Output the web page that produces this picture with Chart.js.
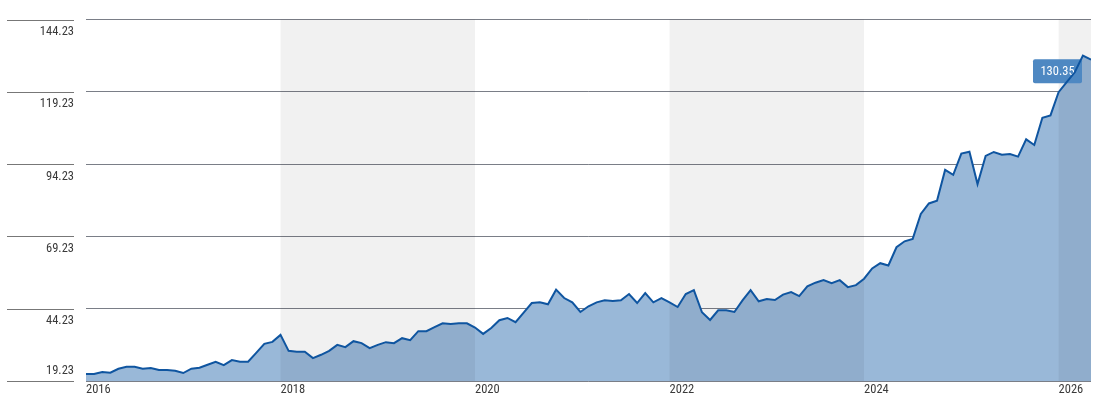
<!DOCTYPE html>
<html>
<head>
<meta charset="utf-8">
<script src="https://cdn.jsdelivr.net/npm/chart.js@4/dist/chart.umd.min.js"></script>
<style>
  html, body { margin: 0; padding: 0; background: #fff; }
  canvas { display: block; }
</style>
</head>
<body>
<canvas id="priceChart" width="1101" height="406"></canvas>
<script>
// monthly closes, Jan 2016 onwards
const startYear = 2016;
const values = [
  21.64, 21.64, 22.33, 22.09, 23.47, 24.15, 24.15, 23.47, 23.71, 23.02, 23.02, 22.78,
  21.98, 23.47, 23.81, 24.84, 25.88, 24.74, 26.46, 25.88, 25.88, 28.98, 32.07, 32.76,
  35.17, 29.66, 29.32, 29.32, 27.15, 28.29, 29.66, 31.73, 30.94, 33.00, 32.32, 30.59,
  31.73, 32.66, 32.32, 34.04, 33.35, 36.45, 36.45, 37.83, 39.20, 38.96, 39.20, 39.20,
  37.72, 35.52, 37.58, 40.23, 41.03, 39.55, 42.89, 46.19, 46.43, 45.75, 50.81, 47.91,
  46.43, 43.09, 45.06, 46.43, 47.12, 46.88, 47.12, 49.29, 46.19, 49.64, 46.43, 47.91,
  46.43, 44.82, 49.29, 50.67, 42.99, 40.34, 43.68, 43.68, 43.09, 47.12, 50.67, 46.78,
  47.57, 47.23, 49.09, 49.98, 48.60, 51.94, 53.22, 54.11, 53.08, 54.11, 51.70, 52.39,
  54.60, 58.14, 59.97, 59.17, 65.48, 67.54, 68.37, 76.98, 80.63, 81.56, 92.23, 90.51,
  97.85, 98.53, 87.31, 97.05, 98.43, 97.50, 97.74, 96.81, 102.80, 100.84, 110.24, 111.07,
  119.09, 122.54, 125.98, 131.73, 130.35
];
const yTicks = [19.23, 44.23, 69.23, 94.23, 119.23, 144.23];
const yearTicks = [2016, 2018, 2020, 2022, 2024, 2026];
const shadedYears = [[2018, 2020], [2022, 2024], [2026, null]];

const Y_MIN = yTicks[0];
const Y_MAX = yTicks[yTicks.length - 1];
const X_MIN = startYear;
const X_MAX = startYear + (values.length - 1) / 12;

const points = values.map((v, i) => ({ x: startYear + i / 12, y: v }));

// pick a narrow face if one is installed
function hasFont(name) {
  const c = document.createElement('canvas').getContext('2d');
  c.font = '20px monospace';
  const base = c.measureText('144.23 2016').width;
  c.font = "20px '" + name + "', monospace";
  return c.measureText('144.23 2016').width !== base;
}
const candidates = [
  ['Liberation Sans Narrow', 13],
  ['Arial Narrow', 13],
  ['Roboto Condensed', 12.5],
  ['DejaVu Sans Condensed', 12],
  ['Noto Sans Condensed', 12.5]
];
let pick = candidates.find(c => hasFont(c[0])) || ['Liberation Sans', 11.5];
const FONT = { family: "'" + pick[0] + "', 'Liberation Sans', sans-serif", size: pick[1] };
const TEXT = '#3a3a3a';
const fmt = v => v.toFixed(2);

// grey bands over the area fill + last value badge, drawn before the line itself
const bandsPlugin = {
  id: 'bands',
  afterDatasetDraw(chart, args) {
    if (args.index !== 1) return;
    const { ctx, chartArea } = chart;
    const x = chart.scales.x;
    ctx.save();
    ctx.fillStyle = 'rgba(0,0,0,0.055)';
    shadedYears.forEach(([a, b]) => {
      const x0 = x.getPixelForValue(a);
      const x1 = b === null ? chartArea.right : x.getPixelForValue(b);
      ctx.fillRect(x0, chartArea.top, x1 - x0, chartArea.bottom - chartArea.top);
    });
    // last value badge
    const meta = chart.getDatasetMeta(0);
    const last = meta.data[meta.data.length - 1];
    const w = 49, h = 24;
    const bx = last.x - 9 - w, by = last.y - 0.5;
    ctx.fillStyle = '#4e88c2';
    ctx.beginPath();
    ctx.roundRect(bx, by, w, h, 2);
    ctx.fill();
    ctx.fillStyle = '#ffffff';
    ctx.font = FONT.size + 'px ' + FONT.family;
    ctx.textAlign = 'center';
    ctx.textBaseline = 'middle';
    ctx.fillText(fmt(values[values.length - 1]), bx + w / 2, by + h / 2 + 0.5);
    ctx.restore();
  }
};

// short rules in the label gutter, and the bottom label which sits above its rule
const gutterPlugin = {
  id: 'gutter',
  afterDraw(chart) {
    const { ctx } = chart;
    const y = chart.scales.y;
    const right = chart.chartArea.left - 12;
    ctx.save();
    ctx.setLineDash([]);
    ctx.fillStyle = '#777777';
    y.ticks.forEach(t => {
      const py = Math.round(y.getPixelForValue(t.value));
      ctx.fillRect(7, py, right - 7, 1);
    });
    ctx.fillStyle = TEXT;
    ctx.font = FONT.size + 'px ' + FONT.family;
    ctx.textAlign = 'right';
    ctx.textBaseline = 'middle';
    ctx.fillText(fmt(Y_MIN), right, y.getPixelForValue(Y_MIN) - 10);
    ctx.restore();
  }
};

const ctx = document.getElementById('priceChart').getContext('2d');
const priceChart = new Chart(ctx, {
  type: 'line',
  data: {
    datasets: [{
      data: points,
      borderColor: '#0f55a0',
      borderWidth: 2,
      pointRadius: 0,
      tension: 0,
      fill: false,
      order: 0
    }, {
      data: points,
      borderWidth: 0,
      pointRadius: 0,
      tension: 0,
      backgroundColor: '#99b8d8',
      fill: 'start',
      order: 1
    }]
  },
  plugins: [bandsPlugin, gutterPlugin],
  options: {
    responsive: false,
    animation: false,
    devicePixelRatio: 1,
    layout: { padding: { top: 18, right: 10, bottom: 0, left: 0 } },
    plugins: { legend: { display: false }, tooltip: { enabled: false } },
    scales: {
      x: {
        type: 'linear',
        min: X_MIN,
        max: X_MAX,
        afterBuildTicks: s => { s.ticks = yearTicks.map(v => ({ value: v })); },
        afterFit: s => { s.height = 25; },
        grid: { display: false, drawTicks: false },
        border: { display: false },
        ticks: {
          align: 'start',
          padding: 1,
          maxRotation: 0,
          autoSkip: false,
          color: TEXT,
          font: FONT,
          callback: v => String(v)
        }
      },
      y: {
        type: 'linear',
        position: 'left',
        min: Y_MIN,
        max: Y_MAX,
        z: 1,
        afterBuildTicks: s => { s.ticks = yTicks.map(v => ({ value: v })); },
        afterFit: s => { s.width = 86; },
        grid: {
          color: 'rgba(0,8,24,0.52)',
          lineWidth: 1,
          drawTicks: false
        },
        border: { display: false },
        ticks: {
          padding: 12,
          labelOffset: 12.5,
          color: TEXT,
          font: FONT,
          callback: v => (v === Y_MIN ? '' : fmt(v))
        }
      }
    }
  }
});
</script>
</body>
</html>
